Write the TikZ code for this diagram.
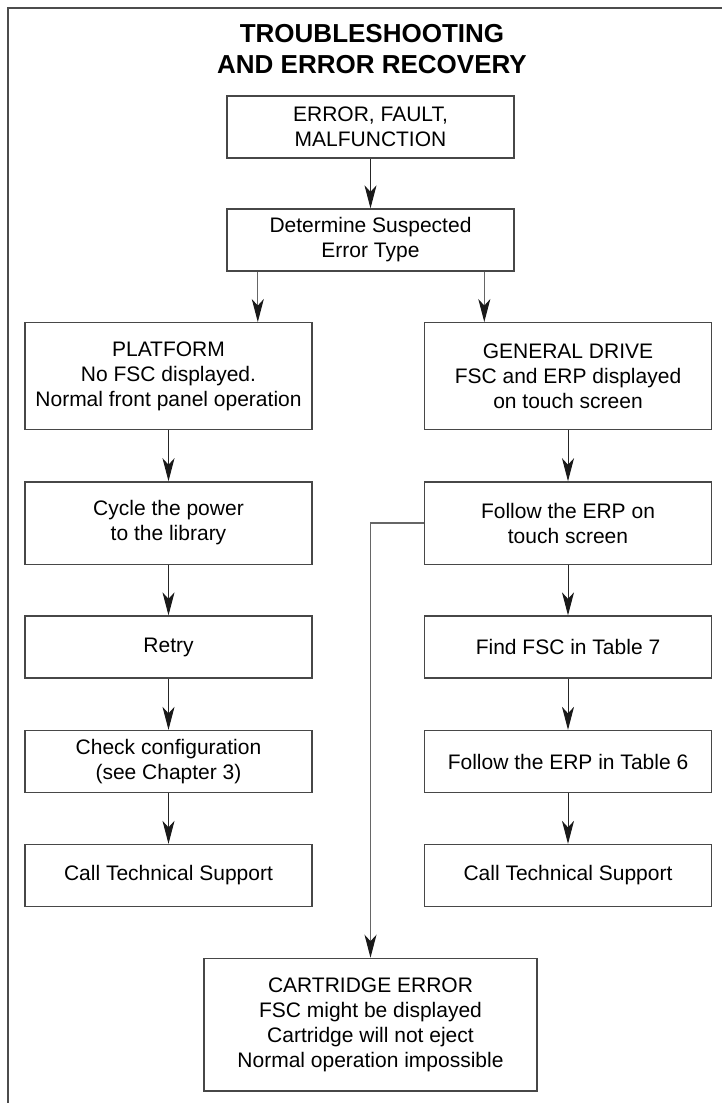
\documentclass[tikz,border=0pt]{standalone}
\usepackage{fontspec}
\setmainfont{Liberation Sans}
\usetikzlibrary{calc,arrows.meta}

\begin{document}
\begin{tikzpicture}[
    x=1pt, y=-1pt,
    >={Stealth[length=23pt, width=12pt, inset=6.5pt, color=black!90]},
    % Styling for Flow Elements
    headline/.style={inner sep=0pt, align=center, font=\fontsize{26}{31.3}\selectfont\bfseries},
    stepbox/.style={rectangle, draw=black!72, line width=1.3pt, fill=white, minimum width=287pt, minimum height=62pt, align=center, inner sep=2pt, font=\fontsize{21}{25}\selectfont},
    tallbox/.style={stepbox, minimum height=106.6pt},
    midbox/.style={stepbox, minimum height=82.3pt},
    flow/.style={->, draw=black!85, line width=1pt},
    branch/.style={->, draw=black!60, line width=1.1pt},
    frame/.style={draw=black!70, line width=2pt}
]

    \useasboundingbox (0,0) rectangle (722,1103);

    % Page Frame (top and left edge only)
    \draw[frame] (8.3,1103) -- (8.3,7.5) -- (722,7.5);

    % Title
    \node[headline] (title) at (372,48.8) {TROUBLESHOOTING\\AND ERROR RECOVERY};

    % Entry Boxes
    \node[stepbox] (err) at (370.5,127) {ERROR, FAULT,\\MALFUNCTION};
    \node[stepbox] (det) at (370.5,240) {Determine Suspected\\Error Type};

    % Left Column: Platform Errors
    \node[tallbox] (plat)  at (168.5,376)   {PLATFORM\\No FSC displayed.\\Normal front panel operation};
    \node[midbox]  (cyc)   at (168.5,523)   {Cycle the power\\to the library};
    \node[stepbox] (retry) at (168.5,647)   {Retry};
    \node[stepbox] (chk)   at (168.5,761.5) {Check configuration\\(see Chapter 3)};
    \node[stepbox] (callL) at (168.5,875.5) {Call Technical Support};

    % Right Column: General Drive Errors
    \node[tallbox] (gen)   at (568,376)   {GENERAL DRIVE\\FSC and ERP displayed\\on touch screen};
    \node[midbox]  (fol)   at (568,523)   {Follow the ERP on\\touch screen};
    \node[stepbox] (find)  at (568,647)   {Find FSC in Table 7};
    \node[stepbox] (tab6)  at (568,761.5) {Follow the ERP in Table 6};
    \node[stepbox] (callR) at (568,875.5) {Call Technical Support};

    % Cartridge Error Box
    \node[stepbox, minimum width=333pt, minimum height=132.7pt] (cart) at (370.5,1024.7)
        {CARTRIDGE ERROR\\FSC might be displayed\\Cartridge will not eject\\Normal operation impossible};

    % Main Flow
    \draw[flow] (err) -- (det);
    \draw[branch] ([xshift=-112.7pt]det.south) -- ([xshift=-112.7pt]det.south |- plat.north);
    \draw[branch] ([xshift=113.8pt]det.south) -- ([xshift=113.8pt]det.south |- gen.north);

    % Column Arrows
    \foreach \from/\to in {plat/cyc, cyc/retry, retry/chk, chk/callL, gen/fol, fol/find, find/tab6, tab6/callR} {
        \draw[flow] (\from) -- (\to);
    }

    % Cartridge Branch
    \draw[branch] (fol.west) -| (cart.north);

\end{tikzpicture}
\end{document}
